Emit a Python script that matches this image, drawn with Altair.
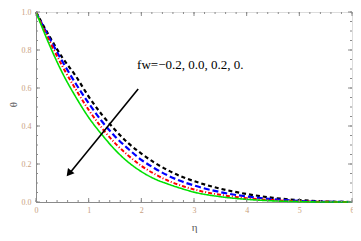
import altair as alt
import pandas as pd

# ---- data ----
eta = [0, 0.25, 0.5, 0.75, 1.0, 1.25, 1.5, 1.75, 2.0, 2.25, 2.5, 2.75, 3.0, 3.5, 4.0, 4.5, 5.0, 5.5, 6.0]
theta_fw_m02 = [1, 0.875, 0.76, 0.665, 0.555, 0.46, 0.38, 0.31, 0.255, 0.207, 0.168, 0.135, 0.11, 0.07, 0.042, 0.022, 0.01, 0.003, 0.0]
theta_fw_00 = [1, 0.865, 0.74, 0.625, 0.52, 0.425, 0.345, 0.28, 0.222, 0.178, 0.14, 0.11, 0.087, 0.052, 0.029, 0.015, 0.006, 0.001, 0.0]
theta_fw_02 = [1, 0.85, 0.715, 0.595, 0.485, 0.39, 0.31, 0.245, 0.19, 0.148, 0.113, 0.087, 0.066, 0.038, 0.02, 0.01, 0.004, 0.001, 0.0]
theta_fw_04 = [1, 0.83, 0.68, 0.555, 0.445, 0.355, 0.275, 0.21, 0.16, 0.122, 0.095, 0.072, 0.052, 0.028, 0.014, 0.006, 0.002, 0.0, 0.0]
series_names = ["fw=-0.2", "fw=0.0", "fw=0.2", "fw=0.4"]
series_colors = ["#000000", "#0000ff", "#ff0000", "#00e000"]

arrow_eta = [1.94, 0.62]
arrow_theta = [0.595, 0.145]
arrowhead_eta = [0.64]
arrowhead_theta = [0.155]

label_text = ["fw=\u22120.2, 0.0, 0.2, 0."]
label_eta = [1.92]
label_theta = [0.72]

x_major = [0, 1, 2, 3, 4, 5, 6]
x_minor = [i / 5 for i in range(31)]
y_major = [0, 0.2, 0.4, 0.6, 0.8, 1.0]
y_minor = [i / 20 for i in range(21)]

W, H = 316, 190
GRAY = "#8a8a8a"
LABEL = "#c9a07e"

rows = []
for name, vals in zip(series_names, [theta_fw_m02, theta_fw_00, theta_fw_02, theta_fw_04]):
    for e, t in zip(eta, vals):
        rows.append({"eta": e, "theta": t, "series": name})
df = pd.DataFrame(rows)

xs = alt.Scale(domain=[0, 6], nice=False, zero=False)
ys = alt.Scale(domain=[0, 1], nice=False)

xaxis = alt.Axis(values=x_major, format="d", title="\u03b7", grid=False, ticks=False,
                 domainColor=GRAY, labelColor=LABEL, labelFont="Liberation Serif", labelFontSize=8,
                 labelPadding=4, labelOverlap=False, labelFlush=False,
                 titleFont="Liberation Serif", titleFontSize=11,
                 titleFontWeight="normal", titleColor="#555", titlePadding=7)
yaxis = alt.Axis(values=y_major, format=".1f", title="\u03b8", grid=False, ticks=False,
                 domainColor=GRAY, labelColor=LABEL, labelFont="Liberation Serif", labelFontSize=8,
                 labelPadding=5, labelOverlap=False, labelFlush=False,
                 titleFont="Liberation Serif", titleFontSize=11,
                 titleFontWeight="normal", titleColor="#555", titleX=-23, titleY=92,
                 titleAngle=270, titleAlign="center", titleBaseline="middle")

def X(field):
    return alt.X(field, scale=xs, axis=xaxis, title="\u03b7")

def Y(field):
    return alt.Y(field, scale=ys, axis=yaxis, title="\u03b8")

base_lines = []
dashes = {"fw=-0.2": [4, 3], "fw=0.0": [6, 3], "fw=0.2": [4, 2, 1, 2], "fw=0.4": [1, 0]}
widths = {"fw=-0.2": 2.2, "fw=0.0": 2.2, "fw=0.2": 2.0, "fw=0.4": 1.6}
for name, col in zip(series_names, series_colors):
    base_lines.append(
        alt.Chart(df[df.series == name]).mark_line(
            color=col, strokeDash=dashes[name], strokeWidth=widths[name], interpolate="monotone"
        ).encode(x=X("eta:Q"), y=Y("theta:Q"))
    )

arrow_df = pd.DataFrame({"eta": arrow_eta, "theta": arrow_theta})
arrow = alt.Chart(arrow_df).mark_line(color="black", strokeWidth=1.6).encode(
    x=X("eta:Q"), y=Y("theta:Q"))
head = alt.Chart(pd.DataFrame({"eta": arrowhead_eta, "theta": arrowhead_theta})).mark_point(
    shape="triangle", filled=True, color="black", size=70, angle=219, opacity=1
).encode(x=X("eta:Q"), y=Y("theta:Q"))

label = alt.Chart(pd.DataFrame({"eta": label_eta, "theta": label_theta, "t": label_text})).mark_text(
    align="left", baseline="middle", font="Liberation Serif", fontSize=13, color="black"
).encode(x=X("eta:Q"), y=Y("theta:Q"), text="t:N")

def xticks(vals, length):
    d = pd.DataFrame({"eta": vals})
    b = alt.Chart(d).mark_rule(color=GRAY, strokeWidth=1)
    return [b.encode(x=X("eta:Q"), y=alt.value(H), y2=alt.value(H - length)),
            b.encode(x=X("eta:Q"), y=alt.value(0), y2=alt.value(length))]

def yticks(vals, length):
    d = pd.DataFrame({"theta": vals})
    b = alt.Chart(d).mark_rule(color=GRAY, strokeWidth=1)
    return [b.encode(y=Y("theta:Q"), x=alt.value(0), x2=alt.value(length)),
            b.encode(y=Y("theta:Q"), x=alt.value(W), x2=alt.value(W - length))]

tick_layers = xticks(x_minor, 2) + xticks(x_major, 4) + yticks(y_minor, 2) + yticks(y_major, 4)

chart = alt.layer(*base_lines, *tick_layers, arrow, head, label).properties(
    width=W, height=H,
    autosize=alt.AutoSizeParams(type="none"),
    padding={"left": 28, "top": 4, "right": 1, "bottom": 31},
).configure_view(stroke=GRAY, strokeWidth=1).configure(background="white")

chart.save("out.html", embed_options={"renderer": "svg", "actions": False})
